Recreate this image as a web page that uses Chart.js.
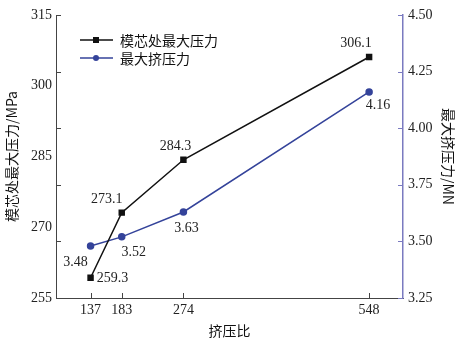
<!DOCTYPE html>
<html>
<head>
<meta charset="utf-8">
<script src="https://cdn.jsdelivr.net/npm/chart.js@4/dist/chart.umd.min.js"></script>
<style>
  html, body { margin: 0; padding: 0; background: #fff; }
  #wrap { width: 465px; height: 351px; }
</style>
</head>
<body>
<div id="wrap"><canvas id="c" width="465" height="351"></canvas></div>
<script>
// ---- data ----
const ratios      = [137, 183, 274, 548];
const dieForce    = [259.3, 273.1, 284.3, 306.1];   // MPa, left axis
const maxForce    = [3.48, 3.52, 3.63, 4.16];       // MN, right axis
const leftTicks   = [255, 270, 285, 300, 315];
const rightTicks  = [3.25, 3.50, 3.75, 4.00, 4.25, 4.50];

const seriesNames = ["模芯处最大压力", "最大挤压力"];

// label offsets (px) for each point
const dieOffsets = [[22, 1], [-15, -13], [-8, -13], [-13, -14]];
const maxOffsets = [[-15, 16], [12, 15], [3, 16], [9, 13]];

const serif = "'Liberation Serif', 'DejaVu Serif', serif";
const cjk   = "'Noto Sans CJK SC', sans-serif";
const BLACK = "#111111";
const BLUE  = "#34439a";
const AXIS_R = "#7a7ac0";

// inward tick marks, point labels and the legend
const decorPlugin = {
    id: "decor",
    afterDatasetsDraw(chart) {
        const ctx = chart.ctx;
        const a = chart.chartArea;
        const x = chart.scales.x, y1 = chart.scales.y1;

        ctx.save();
        ctx.lineWidth = 1;

        // x ticks
        ctx.strokeStyle = "#444";
        ratios.forEach(v => {
            const px = Math.round(x.getPixelForValue(v)) + 0.5;
            ctx.beginPath();
            ctx.moveTo(px, a.bottom);
            ctx.lineTo(px, a.bottom - 5);
            ctx.stroke();
        });

        // left ticks (marks follow the right axis spacing, as in the original)
        rightTicks.forEach(v => {
            const py = Math.round(y1.getPixelForValue(v)) + 0.5;
            ctx.beginPath();
            ctx.moveTo(a.left, py);
            ctx.lineTo(a.left + 5, py);
            ctx.stroke();
        });

        // right ticks
        ctx.strokeStyle = AXIS_R;
        rightTicks.forEach(v => {
            const py = Math.round(y1.getPixelForValue(v)) + 0.5;
            ctx.beginPath();
            ctx.moveTo(a.right, py);
            ctx.lineTo(a.right - 5, py);
            ctx.stroke();
        });

        // point labels
        ctx.fillStyle = "#222";
        ctx.font = "14px " + serif;
        ctx.textAlign = "center";
        ctx.textBaseline = "middle";
        const m0 = chart.getDatasetMeta(0).data;
        const m1 = chart.getDatasetMeta(1).data;
        m0.forEach((pt, i) => {
            ctx.fillText(dieForce[i].toFixed(1), pt.x + dieOffsets[i][0], pt.y + dieOffsets[i][1]);
        });
        m1.forEach((pt, i) => {
            ctx.fillText(maxForce[i].toFixed(2), pt.x + maxOffsets[i][0], pt.y + maxOffsets[i][1]);
        });

        // legend
        const lx = a.left + 24, ly = a.top + 25;
        const colors = [BLACK, BLUE];
        ctx.textAlign = "left";
        ctx.font = "14px " + cjk;
        colors.forEach((c, i) => {
            const yy = ly + i * 18;
            ctx.strokeStyle = c;
            ctx.fillStyle = c;
            ctx.lineWidth = 1.5;
            ctx.beginPath();
            ctx.moveTo(lx, yy);
            ctx.lineTo(lx + 33, yy);
            ctx.stroke();
            ctx.beginPath();
            if (i === 0) {
                ctx.rect(lx + 13, yy - 3, 6, 6);
            } else {
                ctx.arc(lx + 16, yy, 3, 0, Math.PI * 2);
            }
            ctx.fill();
            ctx.fillStyle = "#111";
            ctx.fillText(seriesNames[i], lx + 40, yy + 1);
        });

        ctx.restore();
    }
};

new Chart(document.getElementById("c"), {
    type: "line",
    data: {
        datasets: [
            {
                label: seriesNames[0],
                data: ratios.map((r, i) => ({ x: r, y: dieForce[i] })),
                yAxisID: "y",
                borderColor: BLACK,
                backgroundColor: BLACK,
                borderWidth: 1.5,
                pointStyle: "rect",
                pointRadius: 3.5,
                pointHoverRadius: 3.5
            },
            {
                label: seriesNames[1],
                data: ratios.map((r, i) => ({ x: r, y: maxForce[i] })),
                yAxisID: "y1",
                borderColor: BLUE,
                backgroundColor: BLUE,
                borderWidth: 1.5,
                pointStyle: "circle",
                pointRadius: 3,
                pointHoverRadius: 3
            }
        ]
    },
    options: {
        responsive: false,
        animation: false,
        layout: { padding: { top: 15, left: 0, right: 0, bottom: 0 } },
        plugins: {
            legend: { display: false },
            tooltip: { enabled: false }
        },
        scales: {
            x: {
                type: "linear",
                min: 86,
                max: 598,
                afterBuildTicks: s => { s.ticks = ratios.map(v => ({ value: v })); },
                grid: { display: false, drawTicks: false, tickLength: 0 },
                border: { display: true, color: "#444", width: 1 },
                ticks: { color: "#222", font: { family: serif, size: 14 }, padding: 4, maxRotation: 0 },
                title: { display: true, text: "挤压比", color: "#111", font: { family: cjk, size: 14 }, padding: { top: 4, bottom: 12 } },
                afterFit: s => { s.height = 53; }
            },
            y: {
                position: "left",
                min: 255,
                max: 315,
                afterBuildTicks: s => { s.ticks = leftTicks.map(v => ({ value: v })); },
                grid: { display: false, drawTicks: false, tickLength: 0 },
                border: { display: true, color: "#444", width: 1 },
                ticks: { color: "#222", font: { family: serif, size: 14 }, padding: 4 },
                title: { display: true, text: "模芯处最大压力/MPa", color: "#111", font: { family: cjk, size: 14 }, padding: { top: 3, bottom: 0 } },
                afterFit: s => { s.width = 56; }
            },
            y1: {
                position: "right",
                min: 3.25,
                max: 4.5,
                afterBuildTicks: s => { s.ticks = rightTicks.map(v => ({ value: v })); },
                grid: { display: false, drawTicks: false, tickLength: 0 },
                border: { display: true, color: AXIS_R, width: 1.5 },
                ticks: { color: "#222", font: { family: serif, size: 14 }, padding: 5, callback: v => v.toFixed(2) },
                title: { display: true, text: "最大挤压力/MN", color: "#111", font: { family: cjk, size: 14 }, padding: { top: 8, bottom: 0 } },
                afterFit: s => { s.width = 62; }
            }
        }
    },
    plugins: [decorPlugin]
});
</script>
</body>
</html>
